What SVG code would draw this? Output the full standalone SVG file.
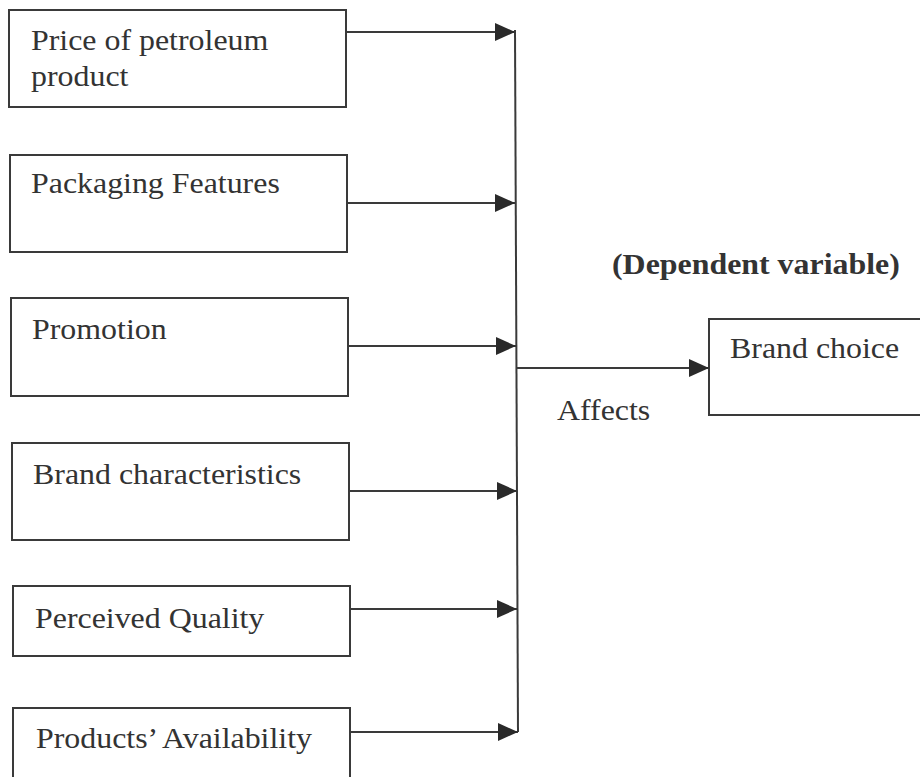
<svg xmlns="http://www.w3.org/2000/svg" width="920" height="777" viewBox="0 0 920 777">
<style>
.box{fill:#fff;stroke:#3a3a3a;stroke-width:2}
.t{font-family:"Liberation Serif","Times New Roman",serif;font-size:29px;fill:#333}
.b{font-weight:bold}
.ln{stroke:#3a3a3a;stroke-width:2;fill:none}
</style>
<defs>
<marker id="ah" markerWidth="20" markerHeight="18" refX="20" refY="9" orient="auto" markerUnits="userSpaceOnUse">
<path d="M0,0 L20,9 L0,18 Z" fill="#2a2a2a"/>
</marker>
</defs>
<rect width="920" height="777" fill="#fff"/>
<g id="n1"><rect class="box" x="9" y="10" width="337" height="97"/>
<text class="t" transform="translate(31,50) scale(1.1,1)">Price of petroleum</text>
<text class="t" transform="translate(31,86) scale(1.1,1)">product</text></g>
<g id="n2"><rect class="box" x="10" y="155" width="337" height="97"/>
<text class="t" transform="translate(31,193) scale(1.1,1)">Packaging Features</text></g>
<g id="n3"><rect class="box" x="11" y="298" width="337" height="98"/>
<text class="t" transform="translate(32,339) scale(1.1,1)">Promotion</text></g>
<g id="n4"><rect class="box" x="12" y="443" width="337" height="97"/>
<text class="t" transform="translate(33,484) scale(1.1,1)">Brand characteristics</text></g>
<g id="n5"><rect class="box" x="13" y="586" width="337" height="70"/>
<text class="t" transform="translate(35,628) scale(1.1,1)">Perceived Quality</text></g>
<g id="n6"><rect class="box" x="13" y="708" width="337" height="90"/>
<text class="t" transform="translate(36,748) scale(1.1,1)">Products’ Availability</text></g>
<g id="n7"><rect class="box" x="709" y="319" width="230" height="96"/>
<text class="t" transform="translate(730,358) scale(1.1,1)">Brand choice</text></g>
<g id="labels">
<text class="t b" transform="translate(612,274) scale(1.1,1)">(Dependent variable)</text>
<text class="t" transform="translate(557,420) scale(1.1,1)">Affects</text>
</g>
<g id="connectors">
<line class="ln" x1="515" y1="30" x2="518" y2="732"/>
<line class="ln" x1="346" y1="32" x2="515" y2="32" marker-end="url(#ah)"/>
<line class="ln" x1="347" y1="203" x2="515" y2="203" marker-end="url(#ah)"/>
<line class="ln" x1="348" y1="346" x2="516" y2="346" marker-end="url(#ah)"/>
<line class="ln" x1="349" y1="491" x2="517" y2="491" marker-end="url(#ah)"/>
<line class="ln" x1="350" y1="609" x2="517" y2="609" marker-end="url(#ah)"/>
<line class="ln" x1="350" y1="732" x2="518" y2="732" marker-end="url(#ah)"/>
<line class="ln" x1="516" y1="368" x2="709" y2="368" marker-end="url(#ah)"/>
</g>
</svg>
